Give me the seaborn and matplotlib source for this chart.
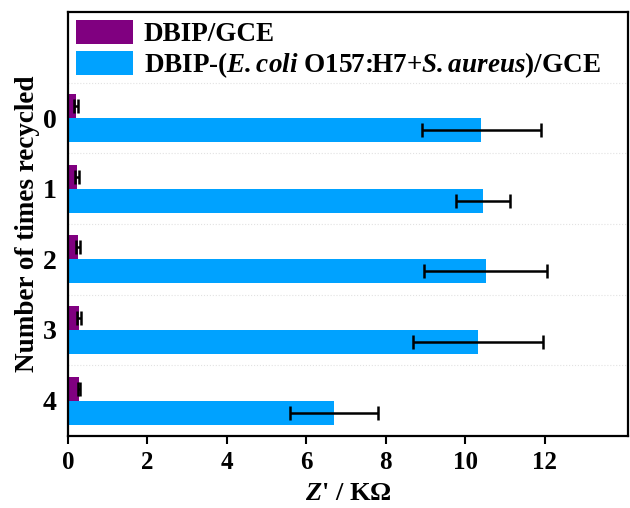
import numpy as np
import pandas as pd
import matplotlib
matplotlib.use("Agg")
import matplotlib.pyplot as plt
from matplotlib.ticker import FixedLocator
import seaborn as sns

# data
cycles = ["0", "1", "2", "3", "4"]
bare_vals = [0.21, 0.22, 0.24, 0.27, 0.28]
bare_err = [0.05, 0.05, 0.05, 0.05, 0.02]
bact_vals = [10.40, 10.44, 10.51, 10.32, 6.69]
bact_err = [1.50, 0.68, 1.55, 1.63, 1.11]
series = ["DBIP/GCE", "DBIP-($\\mathbfit{E.coli}$ O157:H7+$\\mathbfit{S.aureus}$)/GCE"]
colors = ["#800080", "#00A2FF"]
xticks = [0, 2, 4, 6, 8, 10, 12]

df = pd.DataFrame({
    "cycle": cycles * 2,
    "z": bare_vals + bact_vals,
    "err": bare_err + bact_err,
    "series": [series[0]] * 5 + [series[1]] * 5,
})

sns.set_theme(style="white")
plt.rcParams["font.family"] = ["Liberation Serif", "DejaVu Serif"]
plt.rcParams["font.weight"] = "bold"
plt.rcParams["text.color"] = "black"
plt.rcParams["axes.labelcolor"] = "black"
plt.rcParams["xtick.color"] = "black"
plt.rcParams["ytick.color"] = "black"
plt.rcParams["mathtext.fontset"] = "custom"
plt.rcParams["mathtext.bfit"] = "Liberation Serif:italic:bold"
plt.rcParams["mathtext.it"] = "Liberation Serif:italic:bold"
plt.rcParams["mathtext.rm"] = "Liberation Serif:bold"

fig = plt.figure(figsize=(6.3, 5.08), dpi=100)
ax = fig.add_axes([0.108, 0.142, 0.889, 0.834])

sns.barplot(data=df, y="cycle", x="z", hue="series", order=cycles,
            hue_order=series, palette=colors, orient="h", width=0.68,
            errorbar=None, saturation=1, ax=ax, linewidth=0)

# error bars placed on the drawn bars
for s, container in zip(series, ax.containers):
    errs = df[df["series"] == s]["err"].values
    for bar, e in zip(container, errs):
        yc = bar.get_y() + bar.get_height() / 2
        ax.errorbar(bar.get_width(), yc, xerr=e, fmt="none", ecolor="black",
                    elinewidth=1.8, capsize=5, capthick=1.8, zorder=5)

ax.set_xlim(0, 14.1)
ax.set_ylim(4.5, -1.5)
ax.xaxis.set_major_locator(FixedLocator(xticks))
ax.yaxis.set_major_locator(FixedLocator(range(5)))
ax.yaxis.set_minor_locator(FixedLocator(np.arange(-0.5, 4.0, 1.0)))
ax.grid(which="minor", axis="y", color="#e2e2e2", linestyle=":", linewidth=0.8)
ax.set_axisbelow(True)

for sp in ax.spines.values():
    sp.set_color("black")
    sp.set_linewidth(1.6)

ax.tick_params(axis="x", which="major", direction="out", length=6, width=1.5,
               labelsize=18, bottom=True, pad=5)
ax.tick_params(axis="y", which="both", length=0, labelsize=20, pad=8)
for lab in ax.get_xticklabels() + ax.get_yticklabels():
    lab.set_fontweight("bold")

ax.set_xlabel("$\\mathbfit{Z}$' / K\u03a9", fontsize=19, fontweight="bold", labelpad=6)
ax.set_ylabel("Number of times recycled", fontsize=19.5, fontweight="bold", labelpad=2)

leg = ax.legend(loc="upper left", frameon=False, fontsize=19.5, handlelength=2.1,
                handleheight=0.95, handletextpad=0.4, borderaxespad=0.2,
                labelspacing=0.12, borderpad=0.1)
for t in leg.get_texts():
    t.set_fontweight("bold")

fig.savefig("out.png", dpi=100)
